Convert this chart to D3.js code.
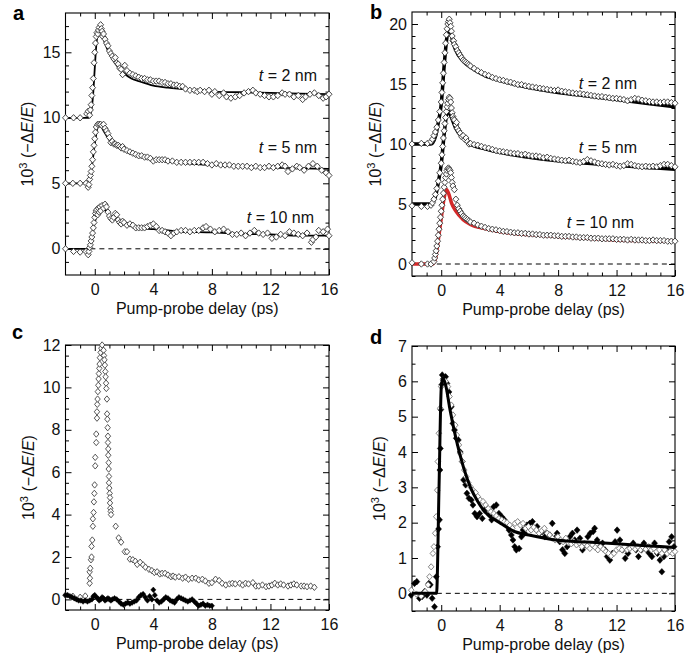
<!DOCTYPE html>
<html><head><meta charset="utf-8">
<script src="https://cdn.jsdelivr.net/npm/d3@7"></script>
<style>body{margin:0;background:#fff}</style>
</head><body><svg id="chart" width="685" height="654"></svg>
<script>
// ---------------- DATA ----------------
const xTickLabels = [0, 4, 8, 12, 16];
const yTicksA = [0, 5, 10, 15];
const yTicksB = [0, 5, 10, 15, 20];
const yTicksC = [0, 2, 4, 6, 8, 10, 12];
const yTicksD = [0, 1, 2, 3, 4, 5, 6, 7];

// Panel a (offset curves, open diamonds + thin fit)
const a2Data = [[-2,10],[-1.45,10],[-1,10],[-0.55,10.3],[-0.45,10.5],[-0.35,10.2],[-0.3,10.6],[-0.25,11.0],[-0.2,11.7],[-0.15,12.3],[-0.1,13.0],[-0.05,14.2],[0,15.0],[0.05,15.7],[0.1,16.2],[0.15,16.5],[0.2,16.4],[0.25,16.7],[0.3,16.9],[0.4,17.1],[0.45,16.8],[0.5,16.6],[0.55,16.2],[0.6,16.4],[0.7,16.0],[0.8,15.7],[0.9,15.5],[1.0,15.1],[1.1,14.9],[1.2,14.7],[1.3,14.5],[1.4,14.6],[1.5,14.2],[1.6,14.1],[1.7,13.8],[1.8,13.7],[1.9,13.3],[2.05,14.0],[2.2,13.6],[2.4,13.4],[2.6,13.3],[2.8,13.2],[3.0,13.1],[3.2,13.0],[3.4,13.0],[3.6,12.9],[3.8,12.9],[4.0,12.8],[4.2,12.8],[4.4,12.8],[4.6,12.7],[4.8,12.7],[5.0,12.6],[5.2,12.6],[5.4,12.5],[5.6,12.5],[5.8,12.4],[6.0,12.4],[6.2,12.2],[6.5,12.1],[6.8,12.1],[7.0,12.0],[7.2,12.1],[7.5,12.0],[7.8,12.1],[8.0,11.8],[8.2,12.0],[8.5,11.7],[8.8,11.9],[9.0,11.6],[9.3,11.5],[9.6,11.6],[9.9,11.7],[10.2,11.9],[10.5,12.0],[10.8,12.1],[11.0,11.9],[11.3,11.8],[11.6,11.7],[11.9,11.6],[12.2,11.6],[12.5,11.7],[12.8,11.9],[13.0,11.8],[13.3,11.8],[13.6,11.6],[13.9,11.7],[14.2,11.4],[14.4,11.6],[14.7,11.8],[15.0,11.9],[15.3,11.7],[15.6,11.5],[15.8,11.6],[16.0,11.8]];
const a2Fit = [[-2,10],[-0.4,10],[-0.2,10.8],[-0.1,12.0],[0,13.8],[0.1,15.5],[0.25,16.5],[0.4,16.6],[0.6,16.0],[0.8,15.4],[1,14.9],[1.5,14.0],[2,13.4],[2.5,13.0],[3,12.8],[4,12.45],[5,12.3],[6,12.2],[8,12.0],[10,11.95],[12,11.9],[14,11.85],[16,11.8]];
const a5Data = [[-2,5],[-1.5,5],[-1,5],[-0.6,5],[-0.45,4.7],[-0.4,4.9],[-0.35,5.3],[-0.3,5.6],[-0.25,5.9],[-0.2,6.3],[-0.15,6.8],[-0.1,7.4],[-0.05,7.9],[0,8.4],[0.05,8.9],[0.1,9.3],[0.2,9.5],[0.3,9.5],[0.4,9.5],[0.5,9.4],[0.6,9.5],[0.7,9.2],[0.8,9.0],[0.9,8.8],[1.0,8.5],[1.1,8.1],[1.2,8.2],[1.3,8.0],[1.4,8.0],[1.5,7.9],[1.6,7.9],[1.7,7.8],[1.8,7.7],[1.9,7.8],[2.0,7.6],[2.2,7.5],[2.4,7.4],[2.6,7.3],[2.8,7.2],[3.0,7.1],[3.2,7.1],[3.4,7.0],[3.6,7.0],[3.8,6.9],[4.0,6.7],[4.2,6.8],[4.4,6.8],[4.6,6.8],[4.8,6.8],[5.0,6.7],[5.3,6.7],[5.6,6.6],[5.9,6.6],[6.2,6.6],[6.5,6.6],[6.8,6.6],[7.1,6.6],[7.4,6.6],[7.7,6.5],[8.0,6.4],[8.3,6.5],[8.6,6.4],[8.9,6.4],[9.2,6.4],[9.5,6.3],[9.8,6.3],[10.1,6.3],[10.4,6.3],[10.7,6.2],[11.0,6.3],[11.3,6.2],[11.6,6.2],[11.9,6.3],[12.2,6.2],[12.5,6.3],[12.8,6.4],[13.0,6.3],[13.2,5.9],[13.5,6.1],[13.8,6.3],[14.0,6.2],[14.3,6.0],[14.6,6.3],[14.9,6.5],[15.2,6.3],[15.5,6.0],[15.8,5.8],[16.0,5.6]];
const a5Fit = [[-2,5],[-0.45,5],[-0.3,5.5],[0,8.0],[0.2,9.3],[0.35,9.5],[0.6,9.0],[1,8.3],[1.5,7.8],[2,7.5],[3,7.1],[4,6.8],[5,6.65],[6,6.55],[8,6.4],[10,6.3],[12,6.2],[14,6.15],[16,6.1]];
const a10Data = [[-2,0],[-1.45,-0.2],[-1.0,-0.25],[-0.6,-0.2],[-0.45,-0.45],[-0.4,-0.2],[-0.35,0.1],[-0.3,0.3],[-0.25,0.6],[-0.2,0.9],[-0.15,1.2],[-0.1,1.6],[-0.05,2.0],[0,2.4],[0.05,2.7],[0.1,2.9],[0.15,3.0],[0.2,2.6],[0.25,3.1],[0.3,2.8],[0.35,3.2],[0.4,2.9],[0.5,3.3],[0.6,3.1],[0.7,3.4],[0.8,3.2],[0.9,2.8],[1.0,2.5],[1.1,2.3],[1.2,2.2],[1.3,2.4],[1.4,2.7],[1.5,2.6],[1.6,2.2],[1.7,2.0],[1.8,1.9],[1.9,2.1],[2.0,2.0],[2.2,1.8],[2.4,1.9],[2.6,1.8],[2.8,1.6],[3.0,1.6],[3.2,1.6],[3.4,1.6],[3.6,1.7],[3.8,1.8],[4.0,1.9],[4.2,1.7],[4.4,1.4],[4.6,1.4],[4.8,1.3],[5.0,1.2],[5.2,1.0],[5.4,1.2],[5.6,1.3],[5.9,1.4],[6.2,1.4],[6.5,1.3],[6.8,1.4],[7.1,1.4],[7.4,1.6],[7.6,1.7],[7.9,1.5],[8.2,1.3],[8.5,1.4],[8.8,1.5],[9.1,1.3],[9.4,1.1],[9.7,1.1],[10.0,1.2],[10.3,1.0],[10.6,1.2],[10.9,1.4],[11.2,1.2],[11.5,1.1],[11.8,1.2],[12.1,0.8],[12.4,0.9],[12.7,1.1],[13.0,1.0],[13.3,1.3],[13.6,1.2],[13.9,1.1],[14.2,1.0],[14.5,1.2],[14.8,0.5],[14.9,0.7],[15.1,0.9],[15.3,1.4],[15.6,1.3],[15.9,1.5],[16.0,1.0]];
const a10Fit = [[-2,0],[-0.4,0],[-0.2,0.8],[0,2.0],[0.3,2.9],[0.6,3.0],[1,2.6],[1.5,2.2],[2,1.9],[3,1.6],[4,1.5],[5,1.4],[6,1.3],[8,1.25],[10,1.15],[12,1.1],[14,1.0],[16,1.0]];

// Panel b
const b2Data = [[-2,10],[-1.36,10.05],[-0.94,10.05],[-0.7,10.2],[-0.6,10.4],[-0.5,10.7],[-0.4,11.0],[-0.3,11.4],[-0.2,12.0],[-0.1,12.7],[0,13.5],[0.05,14.3],[0.1,15.1],[0.15,15.9],[0.2,16.8],[0.25,17.6],[0.3,18.4],[0.35,19.1],[0.4,19.6],[0.45,20.0],[0.5,20.2],[0.55,20.4],[0.6,20.1],[0.65,19.8],[0.7,19.4],[0.75,19.0],[0.8,18.6],[0.85,18.6],[0.9,18.3],[1.0,18.1],[1.1,17.8],[1.2,17.6],[1.3,17.4],[1.4,17.2],[1.5,17.0],[1.6,16.9],[1.7,16.8],[1.8,16.7],[1.9,16.6],[2.0,16.5],[2.25,16.3],[2.5,16.1],[2.75,15.95],[3.0,15.8],[3.25,15.7],[3.5,15.55],[3.75,15.45],[4.0,15.35],[4.25,15.3],[4.5,15.2],[4.75,15.15],[5.0,15.05],[5.25,14.95],[5.5,14.95],[5.75,14.85],[6.0,14.8],[6.25,14.75],[6.5,14.7],[6.75,14.65],[7.0,14.6],[7.25,14.55],[7.5,14.5],[7.75,14.45],[8.0,14.5],[8.25,14.4],[8.5,14.35],[8.75,14.3],[9.0,14.25],[9.25,14.2],[9.5,14.2],[9.75,14.15],[10.0,14.1],[10.25,14.05],[10.5,14.0],[10.75,13.95],[11.0,13.95],[11.25,13.9],[11.5,13.85],[11.75,13.8],[12.0,13.8],[12.25,13.75],[12.5,13.7],[12.75,13.6],[13.0,13.7],[13.25,13.8],[13.5,13.75],[13.75,13.65],[14.0,13.6],[14.25,13.55],[14.5,13.5],[14.75,13.5],[15.0,13.45],[15.25,13.5],[15.5,13.5],[15.75,13.45],[16.0,13.4]];
const b2Fit = [[-2,10],[-0.7,10],[-0.4,10.6],[-0.2,11.8],[0,13.3],[0.2,16.5],[0.4,19.0],[0.5,19.6],[0.6,19.5],[0.8,18.5],[1,17.8],[1.5,16.9],[2,16.4],[3,15.7],[4,15.3],[6,14.7],[8,14.3],[10,14.0],[12,13.7],[14,13.4],[16,13.1]];
const b5Data = [[-2,4.85],[-1.36,4.8],[-0.94,4.8],[-0.7,4.9],[-0.6,5.1],[-0.5,5.4],[-0.4,5.8],[-0.3,6.3],[-0.2,6.9],[-0.1,7.6],[0,8.4],[0.05,9.1],[0.1,9.8],[0.15,10.5],[0.2,11.1],[0.25,11.7],[0.3,12.2],[0.35,12.7],[0.4,13.1],[0.45,13.4],[0.5,13.7],[0.55,13.9],[0.6,13.8],[0.65,13.5],[0.7,13.0],[0.75,12.6],[0.8,12.3],[0.85,12.1],[0.9,12.0],[1.0,11.6],[1.05,11.8],[1.1,11.3],[1.2,11.1],[1.3,10.9],[1.4,10.6],[1.5,10.7],[1.6,10.4],[1.7,10.5],[1.8,10.2],[1.9,10.0],[2.0,10.05],[2.25,9.95],[2.5,9.9],[2.75,9.8],[3.0,9.7],[3.25,9.65],[3.5,9.55],[3.75,9.45],[4.0,9.4],[4.25,9.35],[4.5,9.3],[4.75,9.25],[5.0,9.2],[5.25,9.2],[5.5,9.1],[5.75,9.15],[6.0,9.05],[6.25,9.0],[6.5,9.0],[6.75,8.95],[7.0,8.85],[7.25,8.9],[7.5,8.8],[7.75,8.75],[8.0,8.7],[8.25,8.65],[8.5,8.6],[8.75,8.65],[9.0,8.55],[9.25,8.5],[9.5,8.45],[9.75,8.55],[10.0,8.7],[10.25,8.6],[10.5,8.5],[10.75,8.4],[11.0,8.35],[11.25,8.3],[11.5,8.25],[11.75,8.3],[12.0,8.2],[12.25,8.15],[12.5,8.2],[12.75,8.35],[13.0,8.3],[13.25,8.2],[13.5,8.15],[13.75,8.1],[14.0,8.15],[14.25,8.1],[14.5,8.15],[14.75,8.1],[15.0,8.2],[15.25,8.3],[15.5,8.3],[15.75,8.2],[16.0,8.1]];
const b5Fit = [[-2,5],[-0.7,5],[-0.4,5.6],[-0.2,6.8],[0,8.3],[0.2,10.8],[0.4,12.6],[0.5,12.7],[0.7,12.2],[1,11.3],[1.5,10.5],[2,10.0],[3,9.6],[4,9.3],[6,8.9],[8,8.6],[10,8.4],[12,8.2],[14,8.05],[16,7.9]];
const b10Data = [[-2,0.1],[-1.36,0.0],[-0.94,0.0],[-0.7,0.0],[-0.5,0.2],[-0.45,0.5],[-0.4,0.8],[-0.35,1.1],[-0.3,1.5],[-0.25,1.9],[-0.2,2.4],[-0.15,2.9],[-0.1,3.4],[-0.05,3.9],[0,4.4],[0.05,4.9],[0.1,5.4],[0.15,5.9],[0.2,6.4],[0.25,6.8],[0.3,7.2],[0.35,7.5],[0.4,7.8],[0.45,7.95],[0.5,8.0],[0.55,7.9],[0.6,7.8],[0.65,7.6],[0.7,7.2],[0.75,6.8],[0.8,6.5],[0.9,6.2],[1.0,5.4],[1.1,4.9],[1.2,4.6],[1.3,4.4],[1.4,4.2],[1.5,4.0],[1.6,3.9],[1.7,3.8],[1.8,3.7],[1.9,3.6],[2.0,3.5],[2.25,3.4],[2.5,3.25],[2.75,3.15],[3.0,3.05],[3.25,2.95],[3.5,2.9],[3.75,2.85],[4.0,2.78],[4.25,2.72],[4.5,2.7],[4.75,2.65],[5.0,2.6],[5.25,2.6],[5.5,2.55],[5.75,2.55],[6.0,2.5],[6.25,2.5],[6.5,2.45],[6.75,2.45],[7.0,2.4],[7.25,2.4],[7.5,2.4],[7.75,2.35],[8.0,2.35],[8.25,2.3],[8.5,2.3],[8.75,2.3],[9.0,2.25],[9.25,2.25],[9.5,2.2],[9.75,2.2],[10.0,2.2],[10.25,2.15],[10.5,2.15],[10.75,2.15],[11.0,2.1],[11.25,2.1],[11.5,2.1],[11.75,2.1],[12.0,2.05],[12.25,2.05],[12.5,2.05],[12.75,2.0],[13.0,2.05],[13.25,2.0],[13.5,2.0],[13.75,2.0],[14.0,1.95],[14.25,1.95],[14.5,2.0],[14.75,1.95],[15.0,1.95],[15.25,1.95],[15.5,1.9],[15.75,1.9],[16.0,1.9]];
const b10Fit = [[-2,0],[-0.6,0],[-0.4,0.4],[-0.2,2.0],[0,3.8],[0.2,5.5],[0.35,6.2],[0.5,5.9],[0.7,5.1],[1,4.4],[1.5,3.7],[2,3.3],[3,2.95],[4,2.7],[6,2.45],[8,2.3],[10,2.15],[12,2.0],[14,1.95],[16,1.9]];

// Panel c
const cOpen = [[-2,0.2],[-1.5,0.15],[-1.0,0.1],[-0.65,0.16],[-0.35,0.76],[-0.33,1.0],[-0.35,1.3],[-0.31,1.47],[-0.26,1.87],[-0.22,2.0],[-0.22,2.5],[-0.17,2.8],[-0.13,3.45],[-0.13,3.8],[-0.08,4.1],[-0.06,4.6],[-0.03,5.0],[-0.01,5.4],[0.03,6.3],[0.03,6.7],[0.1,7.4],[0.1,7.8],[0.15,8.55],[0.15,8.85],[0.17,9.2],[0.19,9.45],[0.21,9.8],[0.24,10.1],[0.26,10.4],[0.28,10.65],[0.31,10.9],[0.33,11.1],[0.35,11.4],[0.4,11.65],[0.45,11.85],[0.5,12.0],[0.6,11.75],[0.63,11.5],[0.66,11.3],[0.69,11.05],[0.72,10.75],[0.74,10.5],[0.77,10.2],[0.79,9.95],[0.83,9.45],[0.84,8.75],[0.86,8.5],[0.88,8.1],[0.9,7.7],[0.9,7.4],[0.92,7.1],[0.92,6.8],[0.95,6.45],[0.95,6.15],[0.97,5.8],[0.97,5.5],[0.99,5.25],[1.02,5.0],[1.04,4.8],[1.04,4.55],[1.06,4.3],[1.09,4.15],[1.11,4.0],[1.43,3.45],[1.63,2.9],[1.8,2.7],[2.05,2.25],[2.2,2.25],[2.4,1.9],[2.6,1.87],[2.77,1.8],[2.9,1.65],[3.1,1.75],[3.3,1.63],[3.46,1.52],[3.7,1.42],[3.9,1.36],[4.07,1.27],[4.26,1.3],[4.44,1.2],[4.6,1.23],[4.8,1.23],[5.0,1.15],[5.2,1.07],[5.35,1.1],[5.5,1.05],[5.75,1.07],[6.0,1.0],[6.2,1.05],[6.4,0.95],[6.65,1.0],[6.9,1.0],[7.1,0.92],[7.35,0.95],[7.55,0.87],[7.8,0.76],[8.0,0.79],[8.25,0.95],[8.5,0.89],[8.7,0.76],[8.95,0.68],[9.2,0.73],[9.4,0.76],[9.6,0.73],[9.9,0.76],[10.1,0.68],[10.3,0.76],[10.5,0.73],[10.8,0.79],[11.0,0.63],[11.2,0.63],[11.45,0.68],[11.7,0.6],[11.9,0.63],[12.1,0.68],[12.3,0.76],[12.5,0.68],[12.7,0.73],[12.9,0.68],[13.2,0.63],[13.4,0.68],[13.6,0.73],[13.8,0.68],[14.1,0.63],[14.3,0.63],[14.5,0.6],[14.75,0.63],[15.0,0.57]];
const cFilled = [[-2,0.2],[-1.85,0.2],[-1.7,0.15],[-1.55,0.1],[-1.4,0.05],[-1.25,0.0],[-1.1,-0.05],[-0.95,-0.05],[-0.8,-0.1],[-0.65,-0.05],[-0.5,-0.1],[-0.35,-0.05],[-0.2,0.0],[-0.1,0.15],[0,0.2],[0.1,0.1],[0.2,0.05],[0.3,-0.05],[0.4,0.0],[0.5,0.1],[0.6,0.05],[0.7,-0.05],[0.8,0.0],[0.9,0.05],[1.0,0.0],[1.1,-0.05],[1.2,0.0],[1.35,0.05],[1.5,0.0],[1.65,-0.1],[1.8,-0.2],[1.95,-0.25],[2.1,-0.2],[2.25,-0.15],[2.4,-0.2],[2.55,-0.15],[2.7,-0.1],[2.85,-0.05],[3.0,0.1],[3.15,0.2],[3.3,0.25],[3.45,0.1],[3.6,-0.05],[3.75,0.15],[3.9,0.0],[4.0,0.45],[4.1,0.2],[4.25,-0.05],[4.4,-0.15],[4.55,-0.1],[4.7,0.0],[4.85,0.1],[5.0,0.05],[5.15,-0.05],[5.3,-0.1],[5.45,-0.15],[5.6,0.0],[5.75,0.1],[5.9,0.05],[6.05,0.0],[6.2,-0.05],[6.35,-0.1],[6.5,-0.05],[6.65,0.0],[6.8,-0.1],[6.95,-0.2],[7.1,-0.3],[7.25,-0.25],[7.4,-0.2],[7.55,-0.3],[7.7,-0.25],[7.85,-0.3],[8.0,-0.3]];

// Panel d
const dOpen = [[-2.05,0.09],[-1.7,-0.02],[-1.37,-0.08],[-1.1,0.05],[-0.9,0.24],[-0.8,0.47],[-0.69,0.75],[-0.57,1.13],[-0.5,1.32],[-0.41,1.7],[-0.34,2.17],[-0.27,2.92],[-0.23,3.73],[-0.16,4.53],[-0.07,5.24],[0,5.85],[0.11,6.04],[0.3,6.0],[0.46,5.85],[0.57,5.57],[0.69,5.33],[0.8,5.05],[0.96,4.76],[1.07,4.48],[1.21,4.2],[1.3,3.96],[1.44,3.73],[1.58,3.49],[1.71,3.3],[1.85,3.13],[1.99,3.02],[2.17,2.92],[2.35,2.85],[2.5,2.74],[2.67,2.64],[2.86,2.6],[3.04,2.5],[3.22,2.4],[3.4,2.31],[3.6,2.26],[3.77,2.19],[3.95,2.12],[4.14,2.08],[4.32,2.03],[4.5,2.0],[4.69,1.93],[4.87,1.84],[5.05,1.98],[5.23,2.03],[5.42,1.93],[5.6,1.98],[5.78,1.84],[5.97,1.89],[6.15,1.79],[6.33,1.87],[6.51,1.79],[6.7,1.7],[6.88,1.77],[7.06,1.84],[7.25,1.7],[7.43,1.65],[7.6,1.56],[7.8,1.51],[7.98,1.6],[8.16,1.51],[8.34,1.46],[8.53,1.56],[8.7,1.43],[8.9,1.4],[9.07,1.46],[9.26,1.37],[9.44,1.43],[9.62,1.32],[9.8,1.42],[9.99,1.34],[10.17,1.27],[10.35,1.37],[10.54,1.3],[10.72,1.23],[10.9,1.32],[11.09,1.25],[11.27,1.18],[11.45,1.13],[11.63,1.06],[11.82,1.13],[12.0,1.23],[12.18,1.27],[12.37,1.23],[12.55,1.32],[12.73,1.23],[12.91,1.27],[13.1,1.32],[13.28,1.25],[13.46,1.32],[13.65,1.23],[13.83,1.3],[14.0,1.25],[14.2,1.32],[14.38,1.23],[14.56,1.27],[14.74,1.18],[14.93,1.23],[15.1,1.13],[15.29,1.23],[15.47,1.13],[15.66,1.18],[15.84,1.13],[16.0,1.18]];
const dFilled = [[-2.06,-0.05],[-1.83,0.28],[-1.67,0.33],[-1.49,-0.14],[-1.3,-0.09],[-1.14,0.05],[-0.98,-0.05],[-0.85,0.28],[-0.75,0.24],[-0.62,-0.14],[-0.46,-0.38],[-0.34,0.47],[-0.25,1.32],[-0.18,1.82],[-0.12,2.08],[-0.09,3.49],[-0.06,4.1],[-0.03,5.2],[0.03,5.9],[0.07,6.18],[0.16,6.08],[0.3,6.13],[0.39,5.94],[0.53,5.7],[0.69,5.28],[0.8,4.81],[0.91,4.62],[1.03,4.39],[1.17,4.34],[1.3,4.0],[1.44,3.73],[1.53,3.21],[1.67,3.07],[1.76,2.83],[1.9,2.69],[2.06,2.64],[2.17,2.5],[2.3,2.26],[2.45,2.17],[2.63,2.26],[2.81,2.12],[2.97,2.36],[3.13,2.4],[3.31,2.22],[3.45,2.08],[3.59,2.45],[3.77,2.5],[3.95,2.26],[4.14,2.17],[4.32,2.08],[4.46,1.93],[4.64,1.79],[4.8,1.65],[4.91,1.51],[5.03,1.32],[5.14,1.23],[5.33,1.27],[5.49,1.6],[5.6,1.79],[5.71,1.7],[5.87,1.93],[6.06,1.98],[6.24,2.03],[6.4,1.84],[6.56,1.89],[6.74,1.7],[6.93,1.75],[7.09,1.6],[7.25,1.7],[7.43,1.65],[7.6,1.98],[7.77,1.56],[7.93,1.7],[8.11,1.46],[8.3,1.23],[8.46,1.13],[8.62,1.32],[8.8,1.6],[8.98,1.7],[9.14,1.51],[9.3,1.79],[9.49,1.56],[9.67,1.23],[9.85,1.37],[10.03,1.6],[10.2,1.7],[10.4,1.75],[10.5,1.84],[10.67,1.51],[10.86,1.32],[11.04,1.42],[11.2,1.23],[11.36,1.04],[11.54,0.94],[11.72,1.13],[11.9,1.46],[12.04,1.79],[12.23,1.51],[12.41,1.23],[12.59,0.99],[12.78,1.13],[12.96,1.32],[13.14,1.42],[13.33,1.23],[13.5,1.04],[13.7,1.23],[13.87,1.42],[14.06,1.23],[14.24,1.13],[14.42,1.04],[14.6,1.42],[14.8,1.13],[14.97,0.94],[15.1,0.61],[15.24,1.04],[15.42,1.23],[15.6,1.46],[15.77,1.6],[15.93,1.32]];
const dFit = [[-2,0],[-0.32,0],[-0.15,3.0],[0,5.8],[0.1,6.1],[0.3,5.9],[0.6,5.2],[1,4.4],[1.5,3.6],[2,3.0],[2.5,2.6],[3,2.3],[4,2.0],[5,1.75],[6,1.65],[8,1.5],[10,1.45],[12,1.4],[14,1.35],[16,1.3]];

// ---------------- DRAW ----------------
const FONT = "'Liberation Sans', Arial, Helvetica, sans-serif";
const FS = 16;
const svg = d3.select("#chart");
svg.append("rect").attr("width", 685).attr("height", 654).attr("fill", "#fff");

const xDomain = [-2, 16];
const xMinor = d3.range(-1, 16, 1).filter(v => v % 4 !== 0);

function diamondPath(rx, ry) { return `M0,${-ry}L${rx},0L0,${ry}L${-rx},0Z`; }

function makePanel(cfg) {
  const g = svg.append("g").attr("transform", `translate(${cfg.left},${cfg.top})`);
  const w = cfg.right - cfg.left, h = cfg.bottom - cfg.top;
  const x = d3.scaleLinear().domain(xDomain).range([0, w]);
  const y = d3.scaleLinear().domain(cfg.yDomain).range([h, 0]);
  const axes = g.append("g");
  axes.append("g").attr("transform", `translate(0,${h})`)
    .call(d3.axisBottom(x).tickValues(xTickLabels).tickSizeInner(-6).tickSizeOuter(0).tickPadding(8.5).tickFormat(d3.format("d")));
  axes.append("g").attr("transform", `translate(0,${h})`)
    .call(d3.axisBottom(x).tickValues(xMinor).tickSizeInner(-3.5).tickSizeOuter(0).tickFormat(""));
  axes.append("g")
    .call(d3.axisTop(x).tickValues(xTickLabels).tickSizeInner(-6).tickSizeOuter(0).tickFormat(""));
  axes.append("g")
    .call(d3.axisTop(x).tickValues(xMinor).tickSizeInner(-3.5).tickSizeOuter(0).tickFormat(""));
  axes.append("g")
    .call(d3.axisLeft(y).tickValues(cfg.yMajor).tickSizeInner(-6).tickSizeOuter(0).tickPadding(5).tickFormat(d3.format("d")));
  axes.append("g")
    .call(d3.axisLeft(y).tickValues(cfg.yMinor).tickSizeInner(-3.5).tickSizeOuter(0).tickFormat(""));
  axes.append("g").attr("transform", `translate(${w},0)`)
    .call(d3.axisRight(y).tickValues(cfg.yMajor).tickSizeInner(-6).tickSizeOuter(0).tickFormat(""));
  axes.append("g").attr("transform", `translate(${w},0)`)
    .call(d3.axisRight(y).tickValues(cfg.yMinor).tickSizeInner(-3.5).tickSizeOuter(0).tickFormat(""));
  axes.selectAll(".domain").remove();
  axes.selectAll(".tick line").attr("stroke", "#000").attr("stroke-width", 1);
  axes.selectAll(".tick text").attr("font-family", FONT).attr("font-size", FS).attr("fill", "#111");
  g.append("rect").attr("width", w).attr("height", h).attr("fill", "none").attr("stroke", "#000").attr("stroke-width", 1.1);

  g.append("line").attr("x1", x(-0.3)).attr("x2", x(16)).attr("y1", y(0)).attr("y2", y(0))
    .attr("stroke", "#000").attr("stroke-width", 1).attr("stroke-dasharray", "5,4");

  g.append("text").attr("x", w / 2).attr("y", h + 39).attr("text-anchor", "middle")
    .attr("font-family", FONT).attr("font-size", FS).attr("fill", "#111").text("Pump-probe delay (ps)");
  const yt = svg.append("text").attr("transform", `translate(${cfg.yLabelX},${(cfg.top + cfg.bottom) / 2}) rotate(-90)`)
    .attr("text-anchor", "middle").attr("font-family", FONT).attr("font-size", FS).attr("fill", "#111");
  yt.append("tspan").text("10");
  yt.append("tspan").attr("font-size", 11).attr("dy", -6).text("3");
  yt.append("tspan").attr("dy", 6).text(" (\u2212\u0394");
  yt.append("tspan").attr("font-style", "italic").text("E");
  yt.append("tspan").text("/");
  yt.append("tspan").attr("font-style", "italic").text("E");
  yt.append("tspan").text(")");
  svg.append("text").attr("x", cfg.letterX).attr("y", cfg.letterY).attr("font-family", FONT)
    .attr("font-size", 20).attr("font-weight", "bold").attr("fill", "#000").text(cfg.letter);
  return { g, x, y };
}

function drawLine(p, data, color, width) {
  p.g.append("path").datum(data).attr("fill", "none").attr("stroke", color).attr("stroke-width", width)
    .attr("stroke-linejoin", "round")
    .attr("d", d3.line().x(d => p.x(d[0])).y(d => p.y(d[1])).curve(d3.curveMonotoneX));
}
function drawDiamonds(p, data, opts) {
  p.g.append("g").selectAll("path").data(data).join("path")
    .attr("transform", d => `translate(${p.x(d[0])},${p.y(d[1])})`)
    .attr("d", diamondPath(opts.rx, opts.ry))
    .attr("fill", opts.fill).attr("stroke", opts.stroke).attr("stroke-width", opts.sw);
}
function seriesLabel(p, xpos, ypos, num) {
  const t = p.g.append("text").attr("x", xpos).attr("y", ypos).attr("text-anchor", "end")
    .attr("font-family", FONT).attr("font-size", FS).attr("fill", "#111");
  t.append("tspan").attr("font-style", "italic").text("t");
  t.append("tspan").text(" = " + num + " nm");
}

const openStyle = { rx: 3, ry: 3.2, fill: "#fff", stroke: "#333", sw: 0.9 };

// Panel a
const pa = makePanel({ left: 65.5, right: 329, top: 13, bottom: 275, yDomain: [-2, 18],
  yMajor: yTicksA, yMinor: d3.range(-1, 18, 1).filter(v => v % 5 !== 0),
  yLabelX: 33, letter: "a", letterX: 13, letterY: 20 });
drawLine(pa, a2Fit, "#000", 1.8);
drawLine(pa, a5Fit, "#000", 1.8);
drawLine(pa, a10Fit, "#000", 1.8);
drawDiamonds(pa, a2Data, openStyle);
drawDiamonds(pa, a5Data, openStyle);
drawDiamonds(pa, a10Data, openStyle);
seriesLabel(pa, 317 - 65.5, 81 - 13, "2");
seriesLabel(pa, 317 - 65.5, 153 - 13, "5");
seriesLabel(pa, 314 - 65.5, 223 - 13, "10");

// Panel b
const pb = makePanel({ left: 412, right: 675, top: 12, bottom: 276, yDomain: [-1, 21],
  yMajor: yTicksB, yMinor: d3.range(-1, 21, 1).filter(v => v % 5 !== 0),
  yLabelX: 381, letter: "b", letterX: 370, letterY: 19 });
drawLine(pb, b2Fit, "#000", 3.5);
drawLine(pb, b5Fit, "#000", 3.5);
drawLine(pb, b10Fit, "#d42a2a", 3.5);
drawDiamonds(pb, b2Data, openStyle);
drawDiamonds(pb, b5Data, openStyle);
drawDiamonds(pb, b10Data, openStyle);
seriesLabel(pb, 637 - 412, 89 - 12, "2");
seriesLabel(pb, 637 - 412, 153 - 12, "5");
seriesLabel(pb, 634 - 412, 228 - 12, "10");

// Panel c
const pc = makePanel({ left: 65.5, right: 329, top: 345, bottom: 610, yDomain: [-0.5, 12],
  yMajor: yTicksC, yMinor: d3.range(-0.5, 12, 0.5).filter(v => v % 2 !== 0),
  yLabelX: 34, letter: "c", letterX: 12, letterY: 339 });
drawDiamonds(pc, cOpen, { rx: 2.7, ry: 3.2, fill: "#fff", stroke: "#444", sw: 0.9 });
drawDiamonds(pc, cFilled, { rx: 2.6, ry: 2.8, fill: "#000", stroke: "#000", sw: 0.5 });

// Panel d
const pd = makePanel({ left: 412, right: 675, top: 346, bottom: 611, yDomain: [-0.5, 7],
  yMajor: yTicksD, yMinor: d3.range(-0.5, 7, 0.5).filter(v => v % 1 !== 0),
  yLabelX: 385, letter: "d", letterX: 370, letterY: 344 });
drawDiamonds(pd, dFilled, { rx: 3, ry: 3.3, fill: "#000", stroke: "#000", sw: 0.5 });
drawDiamonds(pd, dOpen, { rx: 2.8, ry: 3.1, fill: "#fff", stroke: "#777", sw: 0.9 });
drawLine(pd, dFit, "#000", 3);
</script></body></html>
